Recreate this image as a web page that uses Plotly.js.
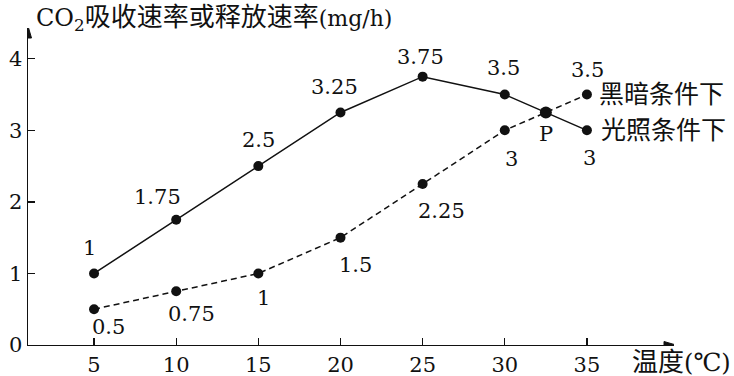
<!DOCTYPE html>
<html>
<head>
<meta charset="utf-8">
<script src="https://cdn.plot.ly/plotly-3.0.1.min.js"></script>
<style>
  html, body { margin: 0; padding: 0; background: #fff; }
  #chart { width: 734px; height: 376px; }
</style>
</head>
<body>
<div id="chart"></div>
<script>
// ---- data ----
var temperatures = [5, 10, 15, 20, 25, 30, 35];
var lightValues = [1, 1.75, 2.5, 3.25, 3.75, 3.5, 3];      // 光照条件下 (solid)
var darkValues  = [0.5, 0.75, 1, 1.5, 2.25, 3, 3.5];       // 黑暗条件下 (dashed)
var xTicks = [5, 10, 15, 20, 25, 30, 35];
var yTicks = [0, 1, 2, 3, 4];
var lightName = '光照条件下';
var darkName = '黑暗条件下';
var titleCJK = '吸收速率或释放速率';
var axisXName = '温度';

// ---- label offsets (px: dx, dy downward) ----
var lightOffsets = [[-5,-25],[-19,-23],[0,-26],[-6,-25],[-2,-20],[-1,-27],[3,28]];
var darkOffsets  = [[14,18],[15,23],[5,25],[15,27],[19,27],[7,29],[1,-25]];

var FONT = 'DejaVu Serif, Noto Sans CJK SC, serif';
var xRange = [0.98, 40.3];
var yRange = [0, 4.43];

// intersection P of the last segments
var n = temperatures.length;
var x1 = temperatures[n-2], x2 = temperatures[n-1];
var a1 = lightValues[n-2], a2 = lightValues[n-1];
var b1 = darkValues[n-2], b2 = darkValues[n-1];
var t = (b1 - a1) / ((a2 - a1) - (b2 - b1));
var px = x1 + t * (x2 - x1);
var py = a1 + t * (a2 - a1);

var traces = [
  {
    x: temperatures, y: lightValues, type: 'scatter', mode: 'lines+markers',
    line: {color: '#111', width: 1.5},
    marker: {color: '#111', size: 10},
    cliponaxis: false, hoverinfo: 'skip'
  },
  {
    x: temperatures, y: darkValues, type: 'scatter', mode: 'lines+markers',
    line: {color: '#111', width: 1.5, dash: '6px,4px'},
    marker: {color: '#111', size: 10},
    cliponaxis: false, hoverinfo: 'skip'
  },
  {
    x: [px], y: [py], type: 'scatter', mode: 'markers',
    marker: {color: '#111', size: 12},
    cliponaxis: false, hoverinfo: 'skip'
  }
];

var annotations = [];
temperatures.forEach(function (tx, i) {
  annotations.push({
    x: tx, y: lightValues[i], xref: 'x', yref: 'y', showarrow: false,
    text: String(lightValues[i]), font: {family: FONT, size: 21, color: '#111'},
    xshift: lightOffsets[i][0], yshift: -lightOffsets[i][1],
    xanchor: 'center', yanchor: 'middle'
  });
  annotations.push({
    x: tx, y: darkValues[i], xref: 'x', yref: 'y', showarrow: false,
    text: String(darkValues[i]), font: {family: FONT, size: 21, color: '#111'},
    xshift: darkOffsets[i][0], yshift: -darkOffsets[i][1],
    xanchor: 'center', yanchor: 'middle'
  });
});
// P label
annotations.push({
  x: px, y: py, xref: 'x', yref: 'y', showarrow: false, text: 'P',
  font: {family: FONT, size: 21, color: '#111'}, yshift: -22,
  xanchor: 'center', yanchor: 'middle'
});
// series names
annotations.push({
  x: temperatures[n-1], y: darkValues[n-1], xref: 'x', yref: 'y', showarrow: false,
  text: darkName, font: {family: FONT, size: 25, color: '#111'},
  xshift: 10, xanchor: 'left', yanchor: 'middle'
});
annotations.push({
  x: temperatures[n-1], y: lightValues[n-1], xref: 'x', yref: 'y', showarrow: false,
  text: lightName, font: {family: FONT, size: 25, color: '#111'},
  xshift: 12, xanchor: 'left', yanchor: 'middle'
});
// y title
annotations.push({
  x: 0, y: 1, xref: 'paper', yref: 'paper', showarrow: false,
  text: '<span style="font-size:24px">CO<sub>2</sub></span><span style="font-size:26px">' + titleCJK + '</span>(mg/h)',
  font: {family: FONT, size: 22, color: '#111'},
  xanchor: 'left', yanchor: 'middle', xshift: 6, yshift: 10
});
// x title
annotations.push({
  x: 1, y: 0, xref: 'paper', yref: 'paper', showarrow: false,
  text: '<span style="font-size:26px">' + axisXName + '</span>(<span style="font-size:25px">℃</span>)',
  font: {family: FONT, size: 24, color: '#111'},
  xanchor: 'right', yanchor: 'middle', xshift: 59, yshift: -17
});

// axis arrowheads (pixel-sized triangles anchored at axis ends)
var shapes = [
  {
    type: 'path', xref: 'x', yref: 'y', xsizemode: 'pixel', ysizemode: 'pixel',
    xanchor: xRange[1], yanchor: yRange[0],
    path: 'M2,0 L-10,3.5 L-10,-3.5 Z',
    fillcolor: '#111', line: {color: '#111', width: 1}
  },
  {
    type: 'path', xref: 'x', yref: 'y', xsizemode: 'pixel', ysizemode: 'pixel',
    xanchor: xRange[0], yanchor: yRange[1],
    path: 'M0,2 L-3.5,-10 L3.5,-10 Z',
    fillcolor: '#111', line: {color: '#111', width: 1}
  }
];

var layout = {
  width: 734, height: 376,
  margin: {l: 28, r: 60, t: 28, b: 31, pad: 0},
  paper_bgcolor: '#fff', plot_bgcolor: '#fff',
  showlegend: false,
  xaxis: {
    range: xRange, tickmode: 'array', tickvals: xTicks, ticktext: xTicks.map(String),
    ticks: 'inside', ticklen: 7, tickwidth: 1.3, tickcolor: '#111',
    showline: true, linecolor: '#111', linewidth: 1.4,
    zeroline: false, showgrid: false,
    tickfont: {family: FONT, size: 21, color: '#111'}, fixedrange: true
  },
  yaxis: {
    range: yRange, tickmode: 'array', tickvals: yTicks, ticktext: yTicks.map(String),
    ticks: 'inside', ticklen: 7, tickwidth: 1.3, tickcolor: '#111',
    showline: true, linecolor: '#111', linewidth: 1.4,
    zeroline: false, showgrid: false,
    tickfont: {family: FONT, size: 21, color: '#111'}, fixedrange: true
  },
  shapes: shapes,
  annotations: annotations
};

Plotly.newPlot('chart', traces, layout, {displayModeBar: false, staticPlot: true});
</script>
</body>
</html>
